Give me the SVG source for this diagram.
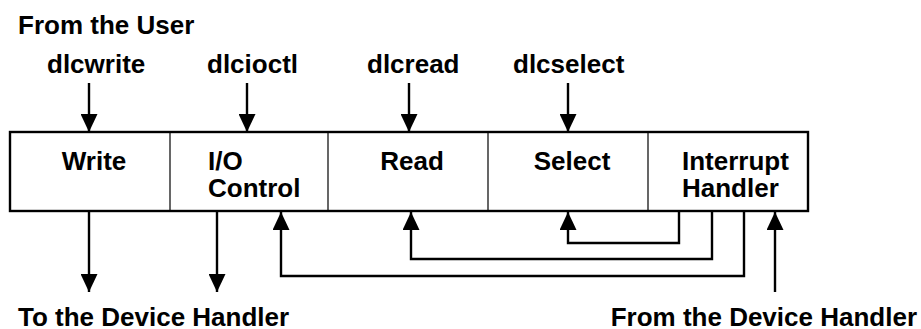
<svg xmlns="http://www.w3.org/2000/svg" width="921" height="329" viewBox="0 0 921 329">
<defs>
<style>
text{font-family:"Liberation Sans",Arial,Helvetica,sans-serif;font-weight:bold;font-size:26px;fill:#000}
.c{text-anchor:middle}
.div{stroke:#000;stroke-width:1.2;fill:none}
.ln{stroke:#000;stroke-width:2.4;fill:none}
</style>
<marker id="ah" viewBox="0 0 18 17" refX="18" refY="8.5" markerWidth="18" markerHeight="17" markerUnits="userSpaceOnUse" orient="auto">
<path d="M0,0 L18,8.5 L0,17 Z" fill="#000"/>
</marker>
</defs>
<rect width="921" height="329" fill="#fff"/>
<g id="labels">
<text x="18" y="34">From the User</text>
<text x="47" y="73">dlcwrite</text>
<text x="207" y="73">dlcioctl</text>
<text x="367" y="73">dlcread</text>
<text x="513" y="73">dlcselect</text>
<text x="18" y="326">To the Device Handler</text>
<text x="917" y="326" text-anchor="end">From the Device Handler</text>
</g>
<g id="box">
<rect x="10" y="132" width="798" height="79" fill="#fff" stroke="#000" stroke-width="2.4"/>
</g>
<g id="node-write">
<text x="94" y="170" class="c">Write</text>
</g>
<g id="node-ioctl">
<line class="div" x1="170" y1="132" x2="170" y2="211"/>
<text x="208" y="170">I/O</text>
<text x="208" y="197">Control</text>
</g>
<g id="node-read">
<line class="div" x1="328" y1="132" x2="328" y2="211"/>
<text x="412" y="170" class="c">Read</text>
</g>
<g id="node-select">
<line class="div" x1="488" y1="132" x2="488" y2="211"/>
<text x="572" y="170" class="c">Select</text>
</g>
<g id="node-interrupt">
<line class="div" x1="648" y1="132" x2="648" y2="211"/>
<text x="682" y="170">Interrupt</text>
<text x="682" y="197">Handler</text>
</g>
<g id="connectors">
<line class="ln" x1="89" y1="83" x2="89" y2="132" marker-end="url(#ah)"/>
<line class="ln" x1="247" y1="83" x2="247" y2="132" marker-end="url(#ah)"/>
<line class="ln" x1="409" y1="83" x2="409" y2="132" marker-end="url(#ah)"/>
<line class="ln" x1="568" y1="83" x2="568" y2="132" marker-end="url(#ah)"/>
<line class="ln" x1="89" y1="211" x2="89" y2="292" marker-end="url(#ah)"/>
<line class="ln" x1="217" y1="211" x2="217" y2="292" marker-end="url(#ah)"/>
<polyline class="ln" points="679,211 679,243 568,243 568,212" marker-end="url(#ah)"/>
<polyline class="ln" points="712,211 712,259 411,259 411,212" marker-end="url(#ah)"/>
<polyline class="ln" points="744,211 744,276 281,276 281,212" marker-end="url(#ah)"/>
<line class="ln" x1="775" y1="292" x2="775" y2="212" marker-end="url(#ah)"/>
</g>
</svg>
